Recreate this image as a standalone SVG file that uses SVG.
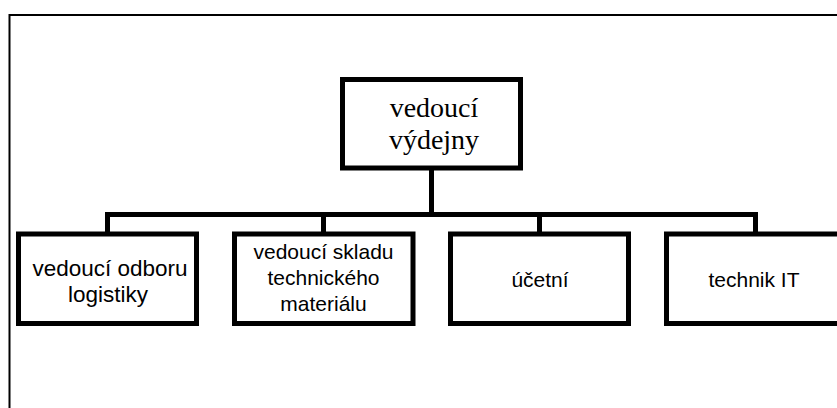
<svg xmlns="http://www.w3.org/2000/svg" width="837" height="408" viewBox="0 0 837 408">
  <style>
    .frame { fill: none; stroke: #000; stroke-width: 2; }
    .box { fill: #fff; stroke: #000; stroke-width: 5; }
    .link { fill: none; stroke: #000; stroke-width: 5; }
    .serif { font-family: "Liberation Serif", "Times New Roman", serif; font-size: 28px; fill: #000; text-anchor: middle; }
    .sans { font-family: "Liberation Sans", Arial, sans-serif; font-size: 21px; fill: #000; text-anchor: middle; }
    .big { font-size: 22.5px; }
  </style>
  <rect width="837" height="408" fill="#fff"/>
  <!-- outer frame, runs past the right and bottom edges -->
  <path class="frame" d="M9.5 420 V15 H850"/>

  <g id="connectors">
    <path class="link" d="M431.5 168 V214.5"/>
    <path class="link" d="M107.5 234 V214.5 H755.5 V234"/>
    <path class="link" d="M323.5 214.5 V234"/>
    <path class="link" d="M539.5 214.5 V234"/>
  </g>

  <g id="vedouci-vydejny">
    <rect class="box" x="342.5" y="79.5" width="178" height="88.5"/>
    <text class="serif" x="434" y="117">vedoucí</text>
    <text class="serif" x="434" y="149">výdejny</text>
  </g>

  <g id="vedouci-odboru-logistiky">
    <rect class="box" x="18.5" y="234" width="178" height="89.5"/>
    <text class="sans big" x="110" y="276">vedoucí odboru</text>
    <text class="sans big" x="108" y="302">logistiky</text>
  </g>

  <g id="vedouci-skladu">
    <rect class="box" x="234.5" y="234" width="178.5" height="89.5"/>
    <text class="sans" x="323.5" y="259">vedoucí skladu</text>
    <text class="sans" x="323.5" y="285">technického</text>
    <text class="sans" x="323.5" y="311">materiálu</text>
  </g>

  <g id="ucetni">
    <rect class="box" x="450.5" y="234" width="178" height="89.5"/>
    <text class="sans" x="540" y="287">účetní</text>
  </g>

  <g id="technik-it">
    <rect class="box" x="666.5" y="234" width="178" height="89.5"/>
    <text class="sans" x="754" y="287">technik IT</text>
  </g>
</svg>
